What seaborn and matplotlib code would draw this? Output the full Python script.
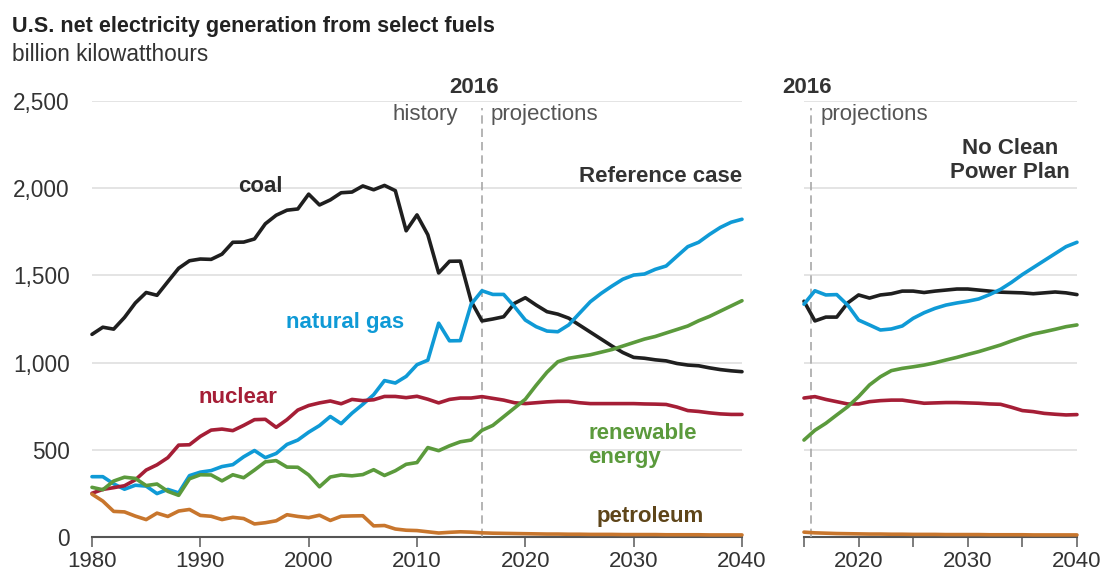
import matplotlib.pyplot as plt
import seaborn as sns
import pandas as pd

# history 1980-2016
hist_years = list(range(1980, 2017))
coal_hist = [1162, 1203, 1192, 1259, 1342, 1402, 1386, 1464, 1541, 1584, 1594, 1592, 1622, 1690, 1691, 1709,
             1796, 1845, 1874, 1881, 1966, 1904, 1933, 1974, 1978, 2013, 1991, 2016, 1986, 1756, 1847, 1733,
             1514, 1581, 1582, 1352, 1239]
gas_hist = [346, 346, 305, 274, 297, 292, 249, 273, 253, 352, 372, 381, 404, 415, 460, 496, 455, 479, 531,
            556, 601, 639, 691, 650, 710, 761, 816, 897, 883, 921, 988, 1014, 1226, 1125, 1126, 1335, 1412]
nuclear_hist = [251, 273, 283, 294, 328, 384, 414, 455, 527, 529, 577, 613, 619, 610, 640, 673, 675, 629,
                673, 728, 754, 769, 780, 764, 789, 782, 787, 806, 806, 799, 807, 790, 769, 789, 797, 797, 805]
renew_hist = [285, 271, 321, 343, 336, 295, 304, 262, 239, 334, 357, 356, 322, 357, 340, 384, 431, 438, 401,
              400, 356, 288, 344, 356, 351, 358, 386, 353, 380, 417, 427, 513, 495, 523, 546, 556, 612]
petro_hist = [246, 206, 147, 144, 120, 100, 137, 118, 149, 158, 124, 119, 100, 113, 106, 75, 82, 93, 128,
              118, 111, 125, 95, 119, 121, 122, 64, 66, 46, 39, 37, 30, 23, 27, 30, 28, 24]

# projections 2017-2040, reference case
proj_years = list(range(2017, 2041))
coal_ref = [1250, 1263, 1340, 1372, 1330, 1292, 1278, 1255, 1215, 1175, 1135, 1095, 1058, 1030, 1025, 1016,
            1010, 995, 986, 982, 970, 960, 953, 948]
gas_ref = [1391, 1391, 1321, 1244, 1206, 1181, 1177, 1216, 1283, 1349, 1397, 1439, 1478, 1502, 1508, 1535,
           1554, 1610, 1665, 1690, 1735, 1775, 1805, 1822]
nuclear_ref = [795, 785, 770, 765, 770, 775, 778, 778, 770, 765, 765, 765, 765, 765, 763, 762, 760, 745, 725,
               720, 712, 706, 703, 703]
renew_ref = [640, 690, 740, 790, 870, 945, 1005, 1025, 1035, 1045, 1060, 1075, 1095, 1115, 1135, 1150, 1170,
             1190, 1210, 1240, 1265, 1295, 1325, 1355]
petro_ref = [22, 21, 20, 19, 18, 17, 17, 16, 16, 15, 15, 15, 14, 14, 14, 14, 13, 13, 13, 13, 12, 12, 12, 12]

# projections 2017-2040, no clean power plan
coal_nocpp = [1261, 1261, 1342, 1388, 1370, 1388, 1395, 1410, 1410, 1402, 1410, 1416, 1422, 1422, 1416, 1410,
              1404, 1402, 1400, 1395, 1400, 1405, 1400, 1390]
gas_nocpp = [1388, 1390, 1330, 1244, 1216, 1187, 1193, 1210, 1254, 1286, 1311, 1330, 1342, 1352, 1365, 1390,
             1420, 1460, 1505, 1545, 1585, 1625, 1665, 1690]
nuclear_nocpp = [789, 776, 763, 763, 776, 782, 785, 785, 776, 767, 769, 771, 771, 769, 767, 763, 761, 744,
                 725, 719, 709, 704, 700, 702]
renew_nocpp = [652, 700, 747, 805, 872, 919, 954, 967, 976, 986, 999, 1015, 1030, 1047, 1063, 1082, 1101,
               1124, 1145, 1164, 1177, 1191, 1206, 1216]
petro_nocpp = [22, 20, 19, 18, 17, 17, 16, 16, 15, 15, 15, 14, 14, 14, 14, 13, 13, 13, 13, 12, 12, 12, 12, 12]

fuels = ["coal", "natural gas", "nuclear", "renewable energy", "petroleum"]
colors = {"coal": "#1f1f1f", "natural gas": "#0f9ad6", "nuclear": "#a51e36",
          "renewable energy": "#5b9a3c", "petroleum": "#c8762d"}

hist = [coal_hist, gas_hist, nuclear_hist, renew_hist, petro_hist]
ref = [coal_ref, gas_ref, nuclear_ref, renew_ref, petro_ref]
nocpp = [coal_nocpp, gas_nocpp, nuclear_nocpp, renew_nocpp, petro_nocpp]

rows_left = []
rows_right = []
for fuel, h, r, n in zip(fuels, hist, ref, nocpp):
    for yr, v in zip(hist_years + proj_years, h + r):
        rows_left.append((fuel, yr, v))
    for yr, v in zip(hist_years[-2:] + proj_years, h[-2:] + n):
        rows_right.append((fuel, yr, v))
left_df = pd.DataFrame(rows_left, columns=["fuel", "year", "value"])
right_df = pd.DataFrame(rows_right, columns=["fuel", "year", "value"])

sns.set_style("white")
plt.rcParams["font.family"] = ["Liberation Sans", "DejaVu Sans"]
plt.rcParams["font.size"] = 16

fig = plt.figure(figsize=(11.03, 5.71), dpi=100)
ax1 = fig.add_axes([0.0834, 0.0595, 0.5893, 0.7636])
ax2 = fig.add_axes([0.7289, 0.0595, 0.2475, 0.7636])

for ax, df in [(ax1, left_df), (ax2, right_df)]:
    sns.lineplot(data=df, x="year", y="value", hue="fuel", hue_order=fuels, palette=colors,
                 linewidth=2.6, legend=False, ax=ax, zorder=4, clip_on=False)
    ax.set_ylim(0, 2500)
    ax.set_yticks([0, 500, 1000, 1500, 2000, 2500])
    ax.grid(axis="y", color="#dcdcdc", linewidth=1.1)
    ax.grid(axis="x", visible=False)
    ax.set_axisbelow(True)
    for s in ["top", "right", "left"]:
        ax.spines[s].set_visible(False)
    ax.spines["bottom"].set_color("#555555")
    ax.spines["bottom"].set_linewidth(1.5)
    ax.tick_params(axis="x", direction="out", length=7, width=1.2, color="#666666",
                   labelsize=16, labelcolor="#333333", pad=3, bottom=True)
    ax.tick_params(axis="y", length=0, labelsize=16.3, labelcolor="#333333", pad=16)
    ax.set_xlabel("")
    ax.set_ylabel("")

ax1.set_xlim(1980, 2040)
ax1.set_xticks(range(1980, 2041, 10))
ax1.set_yticklabels(["0", "500", "1,000", "1,500", "2,000", "2,500"])

ax2.set_xlim(2015, 2040)
ax2.set_xticks(range(2015, 2041, 5))
ax2.set_xticklabels(["", "2020", "", "2030", "", "2040"])
ax2.set_yticklabels([])

# 2016 divider
ax1.axvline(2016, ymax=0.985, color="#a8a8a8", linestyle=(0, (5, 3)), linewidth=1.2, zorder=3)
ax2.axvline(2015.65, ymax=0.985, color="#a8a8a8", linestyle=(0, (5, 3)), linewidth=1.2, zorder=3)
ax1.text(2015.3, 2575, "2016", ha="center", va="center", fontweight="bold", color="#333333")
ax2.text(2015.3, 2575, "2016", ha="center", va="center", fontweight="bold", color="#333333")
ax1.text(2013.8, 2425, "history", ha="right", va="center", color="#555555")
ax1.text(2016.8, 2425, "projections", ha="left", va="center", color="#555555")
ax2.text(2016.5, 2425, "projections", ha="left", va="center", color="#555555")

# series labels
bold = dict(fontweight="bold", va="center")
ax1.text(1995.5, 2010, "coal", ha="center", color="#2b2b2b", **bold)
ax1.text(2040, 2070, "Reference case", ha="right", color="#333333", **bold)
ax1.text(2003.4, 1230, "natural gas", ha="center", color="#0f9ad6", **bold)
ax1.text(1993.5, 800, "nuclear", ha="center", color="#a51e36", **bold)
ax1.text(2025.8, 527, "renewable\nenergy", ha="left", color="#5b9a3c", **bold)
ax1.text(2031.5, 120, "petroleum", ha="center", color="#5e4519", **bold)
ax2.text(2033.9, 2159, "No Clean\nPower Plan", ha="center", multialignment="center",
         color="#333333", **bold)

fig.text(0.011, 0.953, "U.S. net electricity generation from select fuels", fontsize=15.6,
         fontweight="bold", color="#222222", va="center")
fig.text(0.011, 0.905, "billion kilowatthours", fontsize=16.3, color="#333333", va="center")

plt.savefig("out.png", dpi=100)
